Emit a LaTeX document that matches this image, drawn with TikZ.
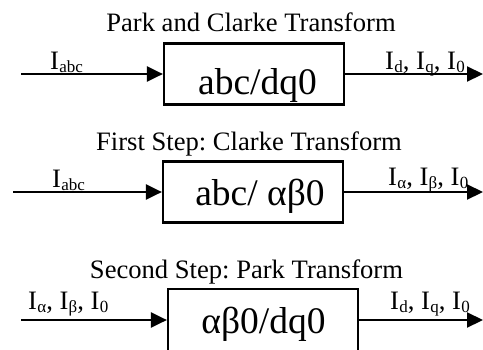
\documentclass[tikz,border=0pt]{standalone}
\usepackage{fontspec}
\setmainfont{Liberation Serif}
\usetikzlibrary{arrows.meta}
\frenchspacing

% current symbol with a lowered, smaller subscript
\newcommand{\cur}[1]{I\kern0.3pt\raisebox{-3.5pt}{\fontsize{17}{17}\selectfont #1}}

\begin{document}
\begin{tikzpicture}[x=1pt,y=-1pt,
  heading/.style={font=\fontsize{26.6}{30}\selectfont, anchor=base, inner sep=0pt},
  sig/.style={font=\fontsize{26.6}{30}\selectfont, anchor=base west, inner sep=0pt},
  blockbox/.style={draw, line width=2.2pt, minimum width=180pt, minimum height=61pt, inner sep=0pt},
  blocktext/.style={font=\fontsize{37.5}{40}\selectfont, anchor=base, inner sep=0pt},
  flow/.style={line width=2.2pt, -{Triangle[length=16pt,width=15pt]}}]

\useasboundingbox (0,0) rectangle (483,349);

% combined transform
\node[heading] (t1) at (251,31) {Park and Clarke Transform};
\node[blockbox] (b1) at (254,74) {};
\node[blocktext] (x1) at (257.5,94) {abc/dq0};
\coordinate (in1) at (21,74);
\coordinate (out1) at (483,74);
\draw[flow] (in1) -- (b1.west);
\draw[flow] (b1.east) -- (out1);
\node[sig] (l1) at (50,69) {\cur{abc}};
\node[sig] (r1) at (385,69) {\cur{d}, \cur{q}, \cur{0}};

% Clarke step
\node[heading] (t2) at (249,150) {First Step: Clarke Transform};
\node[blockbox] (b2) at (253,192) {};
\node[blocktext] (x2) at (260,205) {abc/ αβ0};
\coordinate (in2) at (13,192);
\coordinate (out2) at (483,192);
\draw[flow] (in2) -- (b2.west);
\draw[flow] (b2.east) -- (out2);
\node[sig] (l2) at (52,187) {\cur{abc}};
\node[sig] (r2) at (388,185) {\cur{α}, \cur{β}, \cur{0}};

% Park step
\node[heading] (t3) at (246.5,278) {Second Step: Park Transform};
\node[blockbox, minimum width=190pt, minimum height=62pt] (b3) at (263,320) {};
\node[blocktext] (x3) at (263.5,333) {αβ0/dq0};
\coordinate (in3) at (21,320);
\coordinate (out3) at (483,320);
\draw[flow] (in3) -- (b3.west);
\draw[flow] (b3.east) -- (out3);
\node[sig] (l3) at (28,309) {\cur{α}, \cur{β}, \cur{0}};
\node[sig] (r3) at (390,309) {\cur{d}, \cur{q}, \cur{0}};
\end{tikzpicture}
\end{document}
